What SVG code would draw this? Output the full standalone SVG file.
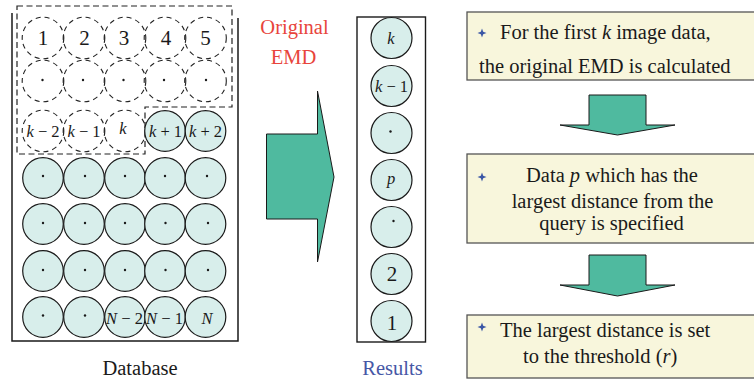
<svg xmlns="http://www.w3.org/2000/svg" width="754" height="381" viewBox="0 0 754 381" font-family="'Liberation Serif', 'DejaVu Serif', serif">
<defs>
<style>
text{font-family:"Liberation Serif","DejaVu Serif",serif;fill:#1a1a1a}
.c{fill:#d8eeeb;stroke:#1a1a1a;stroke-width:1.2}
.d{fill:none;stroke:#222;stroke-width:1.1;stroke-dasharray:5 4}
.num{font-size:21px;text-anchor:middle}
.sm{font-size:16.5px;text-anchor:middle}
.box{fill:#f8f6dc;stroke:#555;stroke-width:1.3}
.arr{fill:#4fba9f;stroke:#1a1a1a;stroke-width:1}
.bt{font-size:20.5px}
.cap{font-size:20.5px;text-anchor:middle}
.it{font-style:italic}
.dot{fill:#1a1a1a}
.star{fill:#3b57a6}
</style>
<path id="st" d="M0,-4.5 L1.2,-1.2 L4.5,0 L1.2,1.2 L0,4.5 L-1.2,1.2 L-4.5,0 L-1.2,-1.2Z"/>
</defs>

<g id="database">
<polyline points="12,13 12,341 238,341 238,18" fill="none" stroke="#1a1a1a" stroke-width="1.5"/>
<polygon points="17,6 232,6 232,107 145,107 145,154 17,154" fill="none" stroke="#222" stroke-width="1.2" stroke-dasharray="6 3.5"/>
<g id="row1">
<circle class="d" cx="43" cy="38" r="20.8"/><circle class="d" cx="84" cy="38" r="20.8"/><circle class="d" cx="125" cy="38" r="20.8"/><circle class="d" cx="165" cy="38" r="20.8"/><circle class="d" cx="205.5" cy="38" r="20.8"/>
<text class="num" x="43" y="45">1</text><text class="num" x="84.5" y="45">2</text><text class="num" x="124" y="45">3</text><text class="num" x="166" y="45">4</text><text class="num" x="205.5" y="45">5</text>
</g>
<g id="row2">
<circle class="d" cx="43" cy="81" r="20.8"/><circle class="d" cx="84" cy="81" r="20.8"/><circle class="d" cx="125" cy="81" r="20.8"/><circle class="d" cx="165" cy="81" r="20.8"/><circle class="d" cx="205.5" cy="81" r="20.8"/>
<circle class="dot" cx="42.5" cy="80" r="1.2"/><circle class="dot" cx="83" cy="80" r="1.2"/><circle class="dot" cx="123.5" cy="80" r="1.2"/><circle class="dot" cx="164" cy="80" r="1.2"/><circle class="dot" cx="206" cy="80" r="1.2"/>
</g>
<g id="row3">
<circle class="d" cx="43" cy="131" r="20.8"/><circle class="d" cx="84" cy="131" r="20.8"/><circle class="d" cx="125" cy="131" r="20.8"/>
<text class="sm" x="43" y="136.5"><tspan class="it">k</tspan> − 2</text>
<text class="sm" x="84" y="136.5"><tspan class="it">k</tspan> − 1</text>
<text class="sm it" x="123" y="134">k</text>
<circle class="c" cx="165" cy="131" r="20.3"/><circle class="c" cx="205.5" cy="131" r="20.3"/>
<text class="sm" x="165.5" y="136.5"><tspan class="it">k</tspan> + 1</text>
<text class="sm" x="205.5" y="136.5"><tspan class="it">k</tspan> + 2</text>
</g>
<g id="row4">
<circle class="c" cx="43" cy="178" r="20.3"/><circle class="c" cx="84" cy="178" r="20.3"/><circle class="c" cx="125" cy="178" r="20.3"/><circle class="c" cx="165" cy="178" r="20.3"/><circle class="c" cx="205.5" cy="178" r="20.3"/>
<circle class="dot" cx="43" cy="176" r="1.2"/><circle class="dot" cx="85" cy="176" r="1.2"/><circle class="dot" cx="125" cy="176" r="1.2"/><circle class="dot" cx="165" cy="176" r="1.2"/><circle class="dot" cx="207" cy="176" r="1.2"/>
</g>
<g id="row5">
<circle class="c" cx="43" cy="224" r="20.3"/><circle class="c" cx="84" cy="224" r="20.3"/><circle class="c" cx="125" cy="224" r="20.3"/><circle class="c" cx="165" cy="224" r="20.3"/><circle class="c" cx="205.5" cy="224" r="20.3"/>
<circle class="dot" cx="43" cy="223" r="1.2"/><circle class="dot" cx="85" cy="223" r="1.2"/><circle class="dot" cx="125" cy="223" r="1.2"/><circle class="dot" cx="165.5" cy="223" r="1.2"/><circle class="dot" cx="208" cy="223" r="1.2"/>
</g>
<g id="row6">
<circle class="c" cx="43" cy="271" r="20.3"/><circle class="c" cx="84" cy="271" r="20.3"/><circle class="c" cx="125" cy="271" r="20.3"/><circle class="c" cx="165" cy="271" r="20.3"/><circle class="c" cx="205.5" cy="271" r="20.3"/>
<circle class="dot" cx="43" cy="270" r="1.2"/><circle class="dot" cx="85" cy="270" r="1.2"/><circle class="dot" cx="125" cy="270" r="1.2"/><circle class="dot" cx="165.5" cy="270" r="1.2"/><circle class="dot" cx="208" cy="270" r="1.2"/>
</g>
<g id="row7">
<circle class="c" cx="43" cy="317" r="20.3"/><circle class="c" cx="84" cy="317" r="20.3"/><circle class="c" cx="125" cy="317" r="20.3"/><circle class="c" cx="165" cy="317" r="20.3"/><circle class="c" cx="205.5" cy="317" r="20.3"/>
<circle class="dot" cx="43" cy="315.5" r="1.2"/><circle class="dot" cx="85" cy="315.5" r="1.2"/>
<text class="sm" x="124.5" y="324"><tspan class="it">N</tspan> − 2</text>
<text class="sm" x="164.5" y="324"><tspan class="it">N</tspan> − 1</text>
<text class="sm it" x="207" y="324">N</text>
</g>
<text class="cap" x="140" y="375">Database</text>
</g>

<g id="emd">
<text class="cap" x="294.5" y="34" style="fill:#e8453c">Original</text>
<text class="cap" x="293.5" y="63.5" style="fill:#e8453c">EMD</text>
</g>

<g id="results">
<rect x="357" y="17" width="68.5" height="325" fill="none" stroke="#1a1a1a" stroke-width="1.4"/>
<circle class="c" cx="391.5" cy="38" r="20.5"/>
<circle class="c" cx="391.5" cy="86" r="20.5"/>
<circle class="c" cx="391.5" cy="133" r="20.5"/>
<circle class="c" cx="391.5" cy="180" r="20.5"/>
<circle class="c" cx="391.5" cy="227" r="20.5"/>
<circle class="c" cx="391.5" cy="274" r="20.5"/>
<circle class="c" cx="391.5" cy="321" r="20.5"/>
<text class="sm it" x="391" y="44">k</text>
<text class="sm" x="391.5" y="91.5"><tspan class="it">k</tspan> − 1</text>
<circle class="dot" cx="390.5" cy="131.5" r="1.2"/>
<text class="sm it" x="391" y="184">p</text>
<circle class="dot" cx="393.5" cy="221" r="1.2"/>
<text class="num" x="392" y="281">2</text>
<text class="num" x="392" y="330">1</text>
<text class="cap" x="392.5" y="374.5" style="fill:#4657a6">Results</text>
</g>

<g id="step1">
<rect class="box" x="467" y="12" width="290" height="68"/>
<use href="#st" class="star" x="482" y="33"/>
<text class="bt" x="500" y="38.5">For the first <tspan class="it">k</tspan> image data,</text>
<text class="bt" x="479" y="73">the original EMD is calculated</text>
</g>

<g id="step2">
<rect class="box" x="467" y="154" width="290" height="89"/>
<use href="#st" class="star" x="482" y="177"/>
<text class="bt" x="612" y="182" text-anchor="middle">Data <tspan class="it">p</tspan> which has the</text>
<text class="bt" x="612.5" y="208" text-anchor="middle">largest distance from the</text>
<text class="bt" x="611.5" y="229.5" text-anchor="middle">query is specified</text>
</g>

<g id="step3">
<rect class="box" x="467" y="315" width="290" height="63"/>
<use href="#st" class="star" x="482" y="327"/>
<text class="bt" x="500" y="337">The largest distance is set</text>
<text class="bt" x="523" y="362.5">to the threshold (<tspan class="it">r</tspan>)</text>
</g>

<g id="connectors">
<polygon class="arr" points="266.5,134 317.5,134 317.5,91 334,177 317.5,262 317.5,219 266.5,219"/>
<polygon class="arr" points="589,95 646,95 646,125 675,125 617.5,135 560,125 589,125"/>
<polygon class="arr" points="589,255 646,255 646,285 675,285 617.5,296 560,285 589,285"/>
</g>
</svg>
